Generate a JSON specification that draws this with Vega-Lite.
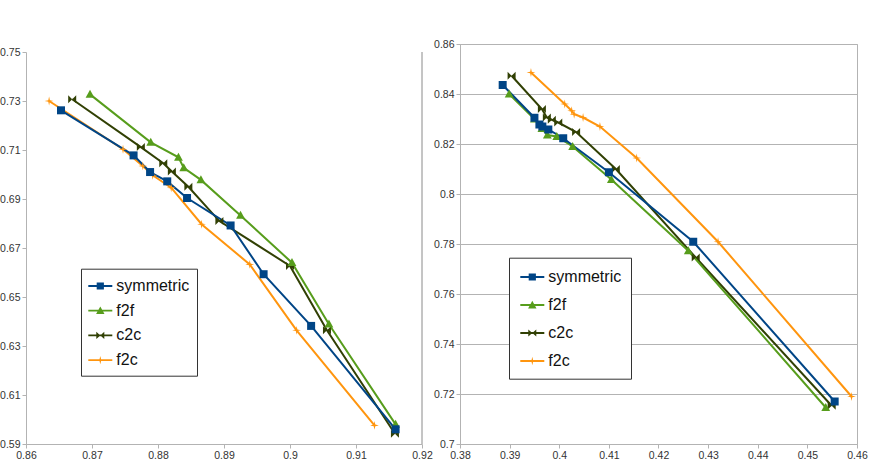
{
  "$schema": "https://vega.github.io/schema/vega-lite/v6.json",
  "background": "white",
  "padding": {"left": -1, "top": 38, "right": 0, "bottom": 0},
  "spacing": 0,
  "config": {
    "font": "Liberation Sans",
    "view": {"stroke": "#b3b3b3"},
    "axis": {"domainColor": "#b3b3b3", "gridColor": "#b3b3b3", "tickColor": "#b3b3b3", "tickSize": 4, "labelFontSize": 10.5, "labelColor": "#333333", "labelFont": "Liberation Sans", "labelPadding": 2, "labelFlush": false, "labelOverlap": false, "title": null},
    "legend": {"orient": "none", "title": null, "strokeColor": "#333333", "fillColor": "white", "labelFontSize": 16, "labelColor": "#111111", "labelFont": "Liberation Sans", "symbolSize": 400, "symbolStrokeWidth": 0}
  },
  "resolve": {"legend": {"color": "independent"}, "scale": {"color": "independent", "shape": "independent", "stroke": "independent"}},
  "datasets": {
    "left": [
      {"series": "f2c", "x": 0.8635, "y": 0.7300}, {"series": "f2c", "x": 0.8747, "y": 0.7103}, {"series": "f2c", "x": 0.8777, "y": 0.7035}, {"series": "f2c", "x": 0.8792, "y": 0.6997}, {"series": "f2c", "x": 0.8820, "y": 0.6946}, {"series": "f2c", "x": 0.8866, "y": 0.6797}, {"series": "f2c", "x": 0.8939, "y": 0.6633}, {"series": "f2c", "x": 0.9010, "y": 0.6364}, {"series": "f2c", "x": 0.9128, "y": 0.5976},
      {"series": "c2c", "x": 0.8670, "y": 0.7307}, {"series": "c2c", "x": 0.8774, "y": 0.7112}, {"series": "c2c", "x": 0.8808, "y": 0.7046}, {"series": "c2c", "x": 0.8821, "y": 0.7012}, {"series": "c2c", "x": 0.8846, "y": 0.6950}, {"series": "c2c", "x": 0.8893, "y": 0.6810}, {"series": "c2c", "x": 0.9000, "y": 0.6627}, {"series": "c2c", "x": 0.9056, "y": 0.6364}, {"series": "c2c", "x": 0.9159, "y": 0.5942},
      {"series": "f2f", "x": 0.8697, "y": 0.7327}, {"series": "f2f", "x": 0.8789, "y": 0.7131}, {"series": "f2f", "x": 0.8831, "y": 0.7070}, {"series": "f2f", "x": 0.8839, "y": 0.7027}, {"series": "f2f", "x": 0.8865, "y": 0.6978}, {"series": "f2f", "x": 0.8925, "y": 0.6833}, {"series": "f2f", "x": 0.9003, "y": 0.6640}, {"series": "f2f", "x": 0.9059, "y": 0.6389}, {"series": "f2f", "x": 0.9160, "y": 0.5980},
      {"series": "symmetric", "x": 0.8653, "y": 0.7262}, {"series": "symmetric", "x": 0.8763, "y": 0.7078}, {"series": "symmetric", "x": 0.8788, "y": 0.7010}, {"series": "symmetric", "x": 0.8814, "y": 0.6972}, {"series": "symmetric", "x": 0.8844, "y": 0.6904}, {"series": "symmetric", "x": 0.8910, "y": 0.6792}, {"series": "symmetric", "x": 0.8960, "y": 0.6593}, {"series": "symmetric", "x": 0.9032, "y": 0.6382}, {"series": "symmetric", "x": 0.9160, "y": 0.5960}
    ],
    "right": [
      {"series": "f2c", "x": 0.3943, "y": 0.8486}, {"series": "f2c", "x": 0.4011, "y": 0.8360}, {"series": "f2c", "x": 0.4025, "y": 0.8333}, {"series": "f2c", "x": 0.4030, "y": 0.8319}, {"series": "f2c", "x": 0.4048, "y": 0.8306}, {"series": "f2c", "x": 0.4082, "y": 0.8270}, {"series": "f2c", "x": 0.4156, "y": 0.8144}, {"series": "f2c", "x": 0.4320, "y": 0.7809}, {"series": "f2c", "x": 0.4589, "y": 0.7190},
      {"series": "c2c", "x": 0.3904, "y": 0.8473}, {"series": "c2c", "x": 0.3965, "y": 0.8340}, {"series": "c2c", "x": 0.3975, "y": 0.8306}, {"series": "c2c", "x": 0.3985, "y": 0.8297}, {"series": "c2c", "x": 0.3998, "y": 0.8286}, {"series": "c2c", "x": 0.4034, "y": 0.8248}, {"series": "c2c", "x": 0.4114, "y": 0.8100}, {"series": "c2c", "x": 0.4275, "y": 0.7746}, {"series": "c2c", "x": 0.4549, "y": 0.7153},
      {"series": "f2f", "x": 0.3899, "y": 0.8400}, {"series": "f2f", "x": 0.3950, "y": 0.8300}, {"series": "f2f", "x": 0.3965, "y": 0.8262}, {"series": "f2f", "x": 0.3976, "y": 0.8236}, {"series": "f2f", "x": 0.3995, "y": 0.8230}, {"series": "f2f", "x": 0.4027, "y": 0.8190}, {"series": "f2f", "x": 0.4105, "y": 0.8058}, {"series": "f2f", "x": 0.4260, "y": 0.7773}, {"series": "f2f", "x": 0.4537, "y": 0.7146},
      {"series": "symmetric", "x": 0.3886, "y": 0.8436}, {"series": "symmetric", "x": 0.3950, "y": 0.8305}, {"series": "symmetric", "x": 0.3960, "y": 0.8278}, {"series": "symmetric", "x": 0.3966, "y": 0.8270}, {"series": "symmetric", "x": 0.3978, "y": 0.8258}, {"series": "symmetric", "x": 0.4008, "y": 0.8223}, {"series": "symmetric", "x": 0.4100, "y": 0.8087}, {"series": "symmetric", "x": 0.4270, "y": 0.7809}, {"series": "symmetric", "x": 0.4555, "y": 0.7170}
    ]
  },
  "hconcat": [
    {
      "width": 396,
      "height": 400,
      "view": {"stroke": null},
      "data": {"name": "left"},
      "layer": [
        {
          "mark": {"type": "rule", "color": "#c4c4c4", "strokeWidth": 1},
          "encoding": {
            "x": {"datum": 0.92, "type": "quantitative"},
            "y": {"datum": 0.59, "type": "quantitative"},
            "y2": {"datum": 0.75}
          }
        },
        {
          "mark": {"type": "line", "strokeWidth": 2},
          "encoding": {
            "x": {"field": "x", "type": "quantitative", "scale": {"domain": [0.86, 0.92], "zero": false, "nice": false}, "axis": {"values": [0.86, 0.87, 0.88, 0.89, 0.9, 0.91, 0.92], "format": "~g", "grid": false}},
            "y": {"field": "y", "type": "quantitative", "scale": {"domain": [0.59, 0.75], "zero": false, "nice": false, "range": [400, 8]}, "axis": {"values": [0.59, 0.61, 0.63, 0.65, 0.67, 0.69, 0.71, 0.73, 0.75], "format": "~g"}},
            "stroke": {"field": "series", "type": "nominal", "scale": {"domain": ["f2c", "c2c", "f2f", "symmetric"], "range": ["#ff950e", "#314004", "#579d1c", "#004586"]}, "legend": null}
          }
        },
        {
          "mark": {"type": "point", "filled": true, "opacity": 1, "size": 64},
          "encoding": {
            "x": {"field": "x", "type": "quantitative"},
            "y": {"field": "y", "type": "quantitative"},
            "color": {"field": "series", "type": "nominal", "scale": {"domain": ["symmetric", "f2f", "c2c", "f2c"], "range": ["#004586", "#579d1c", "#314004", "#ff950e"]},
              "legend": {"legendX": 55, "legendY": 224.7, "padding": 7.3, "rowPadding": 6.7, "symbolOffset": 2, "labelOffset": 6,
                "symbolType": {"expr": "datum.value === 'symmetric' ? 'M-1.2,-0.09H1.2V0.09H-1.2Z M-0.36,-0.36H0.36V0.36H-0.36Z' : datum.value === 'f2f' ? 'M-1.2,-0.09H1.2V0.09H-1.2Z M0,-0.42L0.42,0.34L-0.42,0.34Z' : datum.value === 'c2c' ? 'M-1.2,-0.09H1.2V0.09H-1.2Z M-0.4,-0.36L0,0L-0.4,0.36Z M0.4,-0.36L0.4,0.36L0,0Z' : 'M-1.2,-0.09H1.2V0.09H-1.2Z M0,-0.42L0.08,-0.08L0.42,0L0.08,0.08L0,0.42L-0.08,0.08L-0.42,0L-0.08,-0.08Z'"}}},
            "shape": {"field": "series", "type": "nominal", "scale": {"domain": ["f2f", "symmetric", "f2c", "c2c"], "range": ["M0,-1.15L1.1,0.85L-1.1,0.85Z", "M-1,-1H1V1H-1Z", "M0,-1.1L0.2,-0.2L1.1,0L0.2,0.2L0,1.1L-0.2,0.2L-1.1,0L-0.2,-0.2Z", "M-1,-1L0,0L-1,1Z M1,-1L1,1L0,0Z"]}, "legend": null}
          }
        }
      ]
    },
    {
      "width": 397,
      "height": 400,
      "data": {"name": "right"},
      "layer": [
        {
          "mark": {"type": "line", "strokeWidth": 2},
          "encoding": {
            "x": {"field": "x", "type": "quantitative", "scale": {"domain": [0.38, 0.46], "zero": false, "nice": false}, "axis": {"values": [0.38, 0.39, 0.4, 0.41, 0.42, 0.43, 0.44, 0.45, 0.46], "format": "~g", "grid": false}},
            "y": {"field": "y", "type": "quantitative", "scale": {"domain": [0.7, 0.86], "zero": false, "nice": false}, "axis": {"values": [0.7, 0.72, 0.74, 0.76, 0.78, 0.8, 0.82, 0.84, 0.86], "format": "~g"}},
            "stroke": {"field": "series", "type": "nominal", "scale": {"domain": ["f2c", "c2c", "f2f", "symmetric"], "range": ["#ff950e", "#314004", "#579d1c", "#004586"]}, "legend": null}
          }
        },
        {
          "mark": {"type": "point", "filled": true, "opacity": 1, "size": 64},
          "encoding": {
            "x": {"field": "x", "type": "quantitative"},
            "y": {"field": "y", "type": "quantitative"},
            "color": {"field": "series", "type": "nominal", "scale": {"domain": ["symmetric", "f2f", "c2c", "f2c"], "range": ["#004586", "#579d1c", "#314004", "#ff950e"]},
              "legend": {"legendX": 49, "legendY": 213.7, "padding": 9.3, "rowPadding": 10, "symbolOffset": 4, "labelOffset": 6,
                "symbolType": {"expr": "datum.value === 'symmetric' ? 'M-1.2,-0.09H1.2V0.09H-1.2Z M-0.36,-0.36H0.36V0.36H-0.36Z' : datum.value === 'f2f' ? 'M-1.2,-0.09H1.2V0.09H-1.2Z M0,-0.42L0.42,0.34L-0.42,0.34Z' : datum.value === 'c2c' ? 'M-1.2,-0.09H1.2V0.09H-1.2Z M-0.4,-0.36L0,0L-0.4,0.36Z M0.4,-0.36L0.4,0.36L0,0Z' : 'M-1.2,-0.09H1.2V0.09H-1.2Z M0,-0.42L0.08,-0.08L0.42,0L0.08,0.08L0,0.42L-0.08,0.08L-0.42,0L-0.08,-0.08Z'"}}},
            "shape": {"field": "series", "type": "nominal", "scale": {"domain": ["f2f", "symmetric", "f2c", "c2c"], "range": ["M0,-1.15L1.1,0.85L-1.1,0.85Z", "M-1,-1H1V1H-1Z", "M0,-1.1L0.2,-0.2L1.1,0L0.2,0.2L0,1.1L-0.2,0.2L-1.1,0L-0.2,-0.2Z", "M-1,-1L0,0L-1,1Z M1,-1L1,1L0,0Z"]}, "legend": null}
          }
        }
      ]
    }
  ]
}
